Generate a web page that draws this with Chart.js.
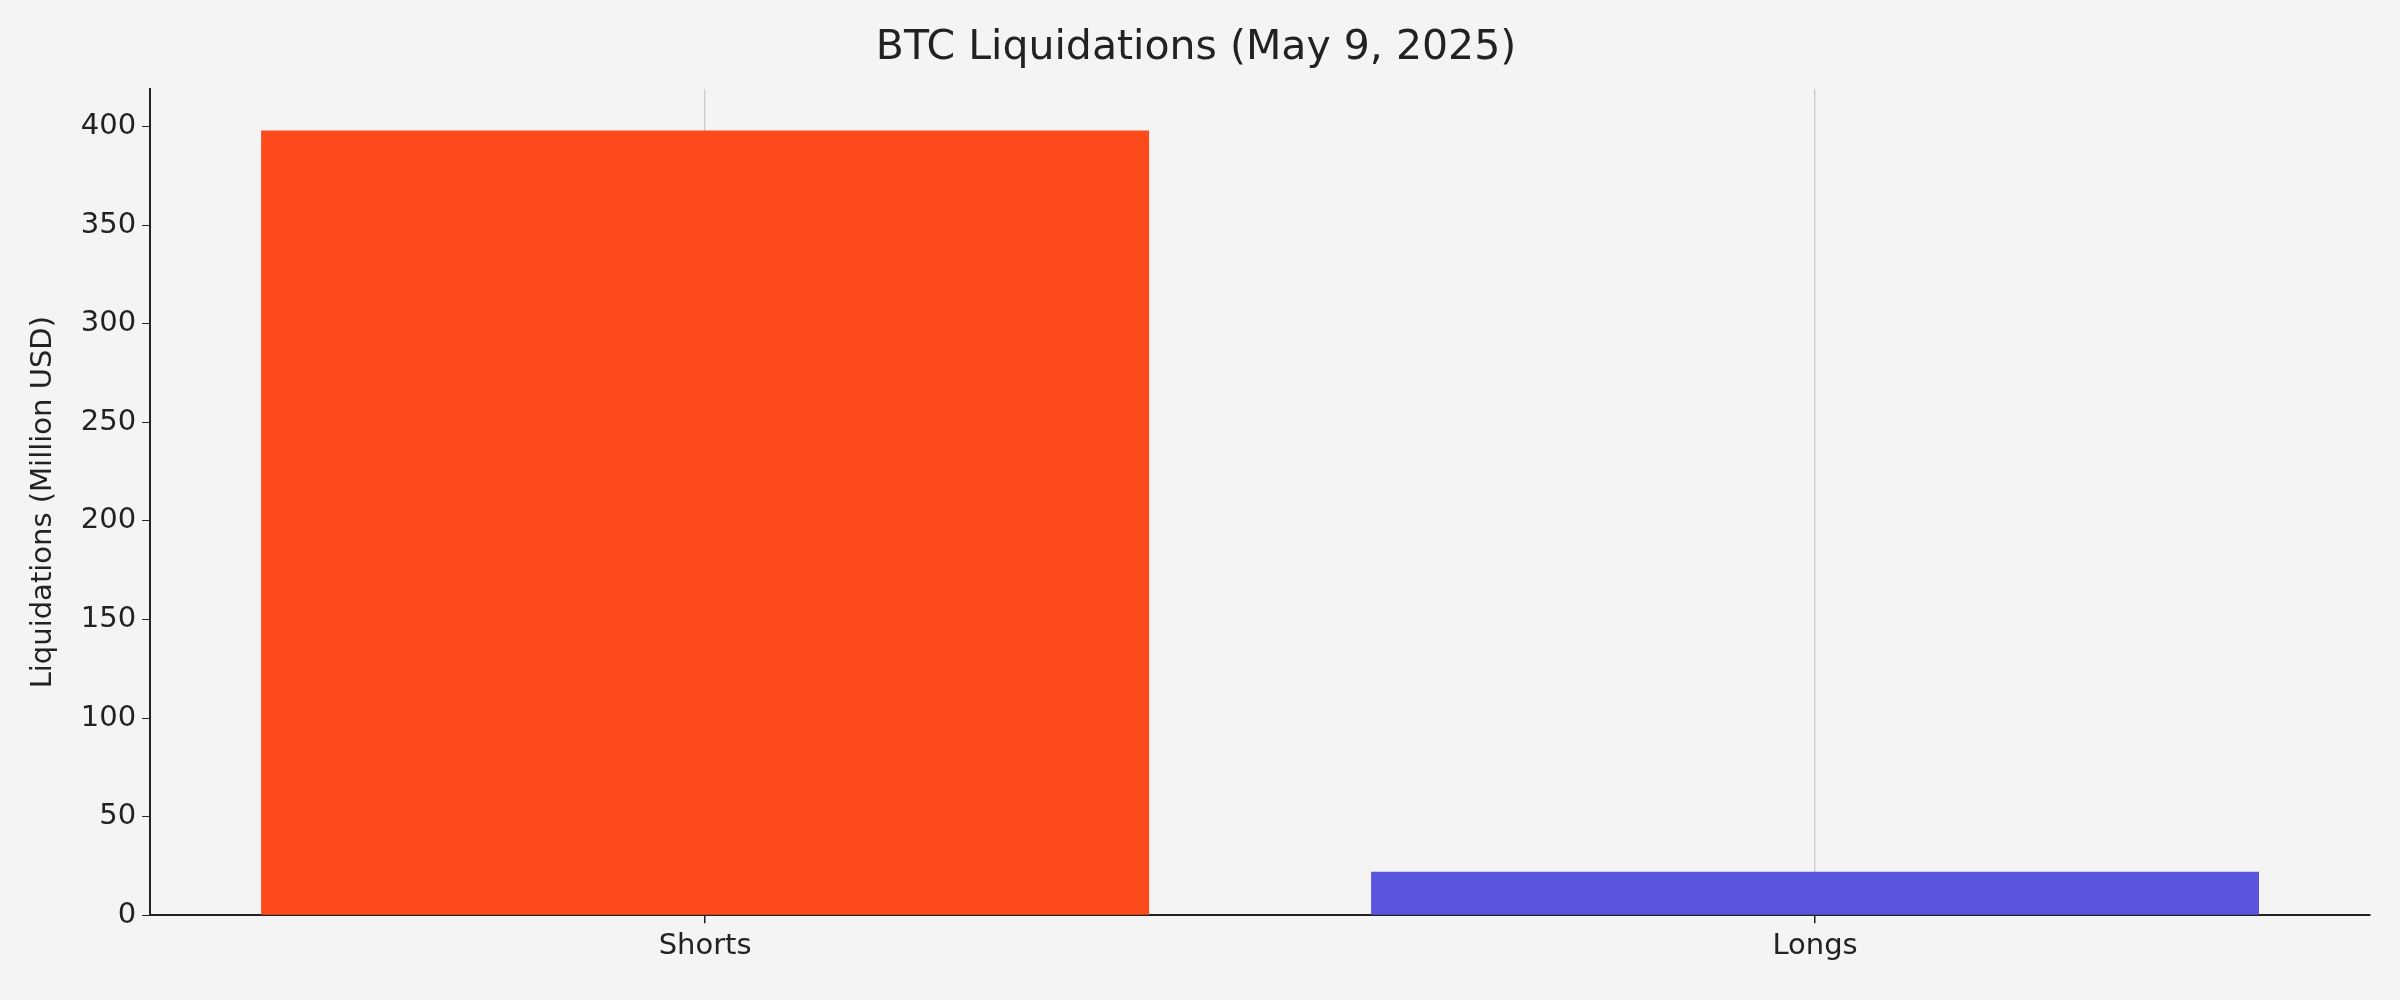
<!DOCTYPE html>
<html>
<head>
<meta charset="utf-8">
<script src="https://cdn.jsdelivr.net/npm/chart.js@4"></script>
<style>
  html, body { margin: 0; padding: 0; background: #f4f4f4; }
  #wrap { width: 2400px; height: 1000px; }
</style>
</head>
<body>
<div id="wrap"><canvas id="chart" width="2400" height="1000"></canvas></div>
<script>
const categories = ['Shorts', 'Longs'];
const liquidations = [398, 22];
const barColors = ['#fc4a1a', '#5a55dc'];
const yTicks = [0, 50, 100, 150, 200, 250, 300, 350, 400];

Chart.defaults.font.family = 'DejaVu Sans';
Chart.defaults.color = '#222';

const bgPlugin = {
  id: 'bg',
  beforeDraw(c) {
    const ctx = c.ctx;
    ctx.save();
    ctx.fillStyle = '#f4f4f4';
    ctx.fillRect(0, 0, c.width, c.height);
    ctx.restore();
  },
};

new Chart(document.getElementById('chart').getContext('2d'), {
  type: 'bar',
  data: {
    labels: categories,
    datasets: [{
      data: liquidations,
      backgroundColor: barColors,
      barPercentage: 0.8,
      categoryPercentage: 1.0,
    }],
  },
  options: {
    responsive: false,
    animation: false,
    layout: { padding: { left: 22, right: 30, top: 4, bottom: 30 } },
    plugins: {
      legend: { display: false },
      tooltip: { enabled: false },
      title: {
        display: true,
        text: 'BTC Liquidations (May 9, 2025)',
        font: { size: 41, weight: 'normal' },
        padding: { top: 20, bottom: 16 },
      },
    },
    scales: {
      x: {
        grid: { offset: false, color: '#cfcfcf', lineWidth: 1.5, tickColor: '#222', tickLength: 8, tickBorderDash: [] },
        border: { color: '#222', width: 2 },
        ticks: { font: { size: 29 }, padding: 6 },
      },
      y: {
        min: 0,
        max: 419,
        grid: { drawOnChartArea: false, tickColor: '#222', tickLength: 8 },
        border: { color: '#222', width: 2 },
        afterBuildTicks(axis) {
          axis.ticks = yTicks.map((v) => ({ value: v }));
        },
        ticks: { font: { size: 29 }, padding: 6 },
        title: { display: true, text: 'Liquidations (Million USD)', font: { size: 29 }, padding: { bottom: 14 } },
      },
    },
  },
  plugins: [bgPlugin, {
    id: 'dashGrid',
    beforeInit(c) {
      c.options.scales.x.grid.borderDash = [6, 4];
    },
  }],
});
</script>
</body>
</html>
